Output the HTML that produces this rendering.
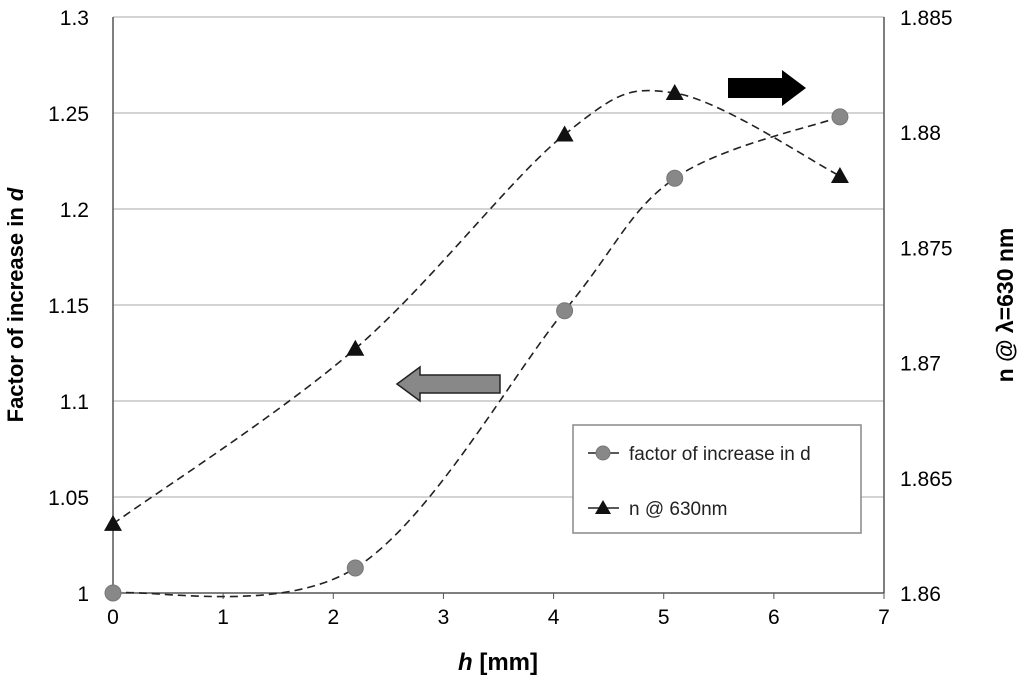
<!DOCTYPE html>
<html><head><meta charset="utf-8"><style>
body{margin:0;background:#fff;}
svg{display:block;font-family:"Liberation Sans",Arial,sans-serif;}
</style></head><body>
<svg id="chart" width="1024" height="683">
<g id="grid"></g>
<g id="axes"></g>
<g id="series"></g>
<g>
<rect x="573" y="425" width="288" height="108" fill="#fff" stroke="#888" stroke-width="1.5"/>
<line x1="588" y1="453" x2="619" y2="453" stroke="#222" stroke-width="1.5"/>
<circle cx="603" cy="453" r="7" fill="#888" stroke="#777"/>
<text x="629" y="460" font-size="19" fill="#222">factor of increase in d</text>
<line x1="588" y1="508" x2="619" y2="508" stroke="#222" stroke-width="1.5"/>
<polygon points="603,500 611,514 595,514" fill="#111"/>
<text x="629" y="515" font-size="19" fill="#222">n @ 630nm</text>
</g>
<polygon points="728,78 782,78 782,70 806,88 782,106 782,98 728,98" fill="#000"/>
<polygon points="500,375 420,375 420,367 397,384 420,401 420,393 500,393" fill="#888" stroke="#222" stroke-width="1.5"/>
<text x="0" y="0" transform="translate(23,305) rotate(-90)" text-anchor="middle" font-size="22" font-weight="bold">Factor of increase in <tspan font-style="italic">d</tspan></text>
<text x="0" y="0" transform="translate(1013,305) rotate(-90)" text-anchor="middle" font-size="23" font-weight="bold">n @ λ=630 nm</text>
<text x="498" y="670" text-anchor="middle" font-size="24" font-weight="bold"><tspan font-style="italic">h</tspan> [mm]</text>
</svg>
<script>
const xVals=[0,2.2,4.1,5.1,6.6];
const factorVals=[1,1.013,1.147,1.216,1.248];
const nXVals=[0,2.2,4.1,5.1,6.6];
const nVals=[1.863,1.8706,1.8799,1.8817,1.8781];
const xTicks=[0,1,2,3,4,5,6,7];
const yLeftTicks=[1,1.05,1.1,1.15,1.2,1.25,1.3];
const yRightTicks=[1.86,1.865,1.87,1.875,1.88,1.885];
const L=113,R=884,T=17,B=593;
const sx=v=>L+(v-0)/7*(R-L);
const syL=v=>B-(v-1)/0.3*(B-T);
const syR=v=>B-(v-1.86)/0.025*(B-T);
const NS="http://www.w3.org/2000/svg";
function mk(tag,attrs,parent,txt){const e=document.createElementNS(NS,tag);for(const k in attrs)e.setAttribute(k,attrs[k]);if(txt!==undefined)e.textContent=txt;document.getElementById(parent).appendChild(e);return e;}
yLeftTicks.forEach((t,i)=>{const y=syL(t);
const g=mk('line',{x1:L,x2:R,y1:y,y2:y,stroke:'#aaa','stroke-width':1},'grid');


const lb=mk('text',{x:L-24,y:y+8,'text-anchor':'end','font-size':21},'axes',String(t));

});
yRightTicks.forEach(t=>{const y=syR(t);
const lb=mk('text',{x:R+16,y:y+8,'font-size':21},'axes',t.toFixed(3).replace(/0+$/,'').replace(/\.$/,''));

});
xTicks.forEach(t=>{const x=sx(t);
mk('line',{x1:x,x2:x,y1:B,y2:B+6,stroke:'#555'},'axes');
const lb=mk('text',{x:x,y:B+31,'text-anchor':'middle','font-size':21},'axes',String(t));

});
mk('line',{x1:L,x2:L,y1:T,y2:B,stroke:'#555','stroke-width':1.5},'axes');
mk('line',{x1:R,x2:R,y1:T,y2:B,stroke:'#555','stroke-width':1.5},'axes');
mk('line',{x1:L,x2:R,y1:B,y2:B,stroke:'#555','stroke-width':1.5},'axes');
function spline(pts){let d=`M${pts[0][0]},${pts[0][1]}`;const t=0.5/3*2;
for(let i=0;i<pts.length-1;i++){const p0=pts[Math.max(0,i-1)],p1=pts[i],p2=pts[i+1],p3=pts[Math.min(pts.length-1,i+2)];
const c1=[p1[0]+(p2[0]-p0[0])*t/2,p1[1]+(p2[1]-p0[1])*t/2];const c2=[p2[0]-(p3[0]-p1[0])*t/2,p2[1]-(p3[1]-p1[1])*t/2];
d+=` C${c1[0]},${c1[1]} ${c2[0]},${c2[1]} ${p2[0]},${p2[1]}`;}return d;}
const fp=xVals.map((x,i)=>[sx(x),syL(factorVals[i])]);
const np=nXVals.map((x,i)=>[sx(x),syR(nVals[i])]);
const l1=mk('path',{d:spline(fp),fill:'none',stroke:'#222','stroke-width':1.6,'stroke-dasharray':'8,5'},'series');


const l2=mk('path',{d:spline(np),fill:'none',stroke:'#222','stroke-width':1.6,'stroke-dasharray':'8,5'},'series');


fp.forEach(p=>{const c=mk('circle',{cx:p[0],cy:p[1],r:8,fill:'#888',stroke:'#777'},'series');

});
np.forEach(p=>{const c=mk('polygon',{points:`${p[0]},${p[1]-9} ${p[0]+9},${p[1]+7} ${p[0]-9},${p[1]+7}`,fill:'#111'},'series');

});
</script>
</body></html>
